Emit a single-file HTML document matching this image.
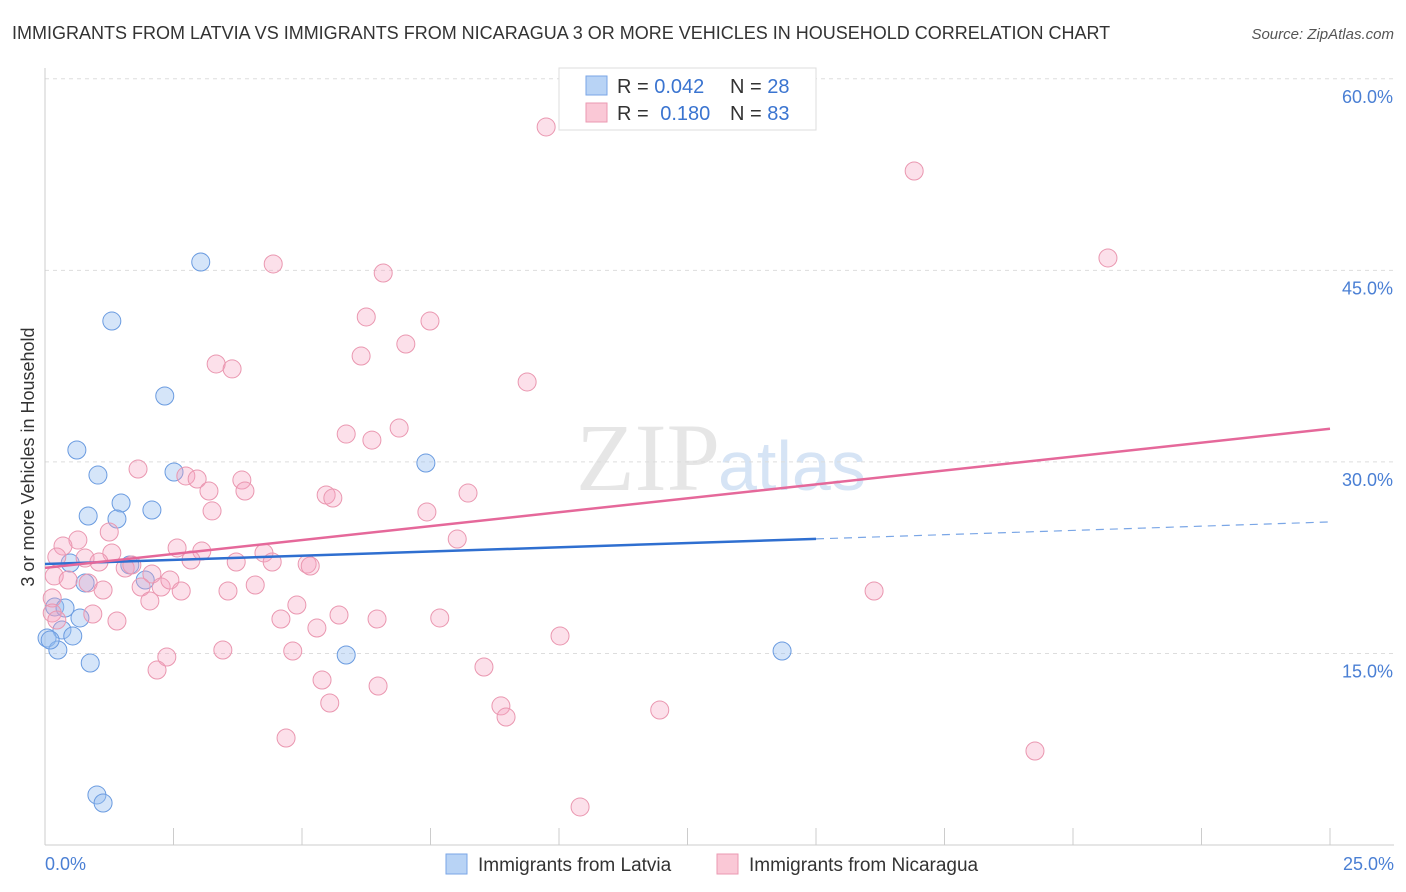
<!DOCTYPE html>
<html><head><meta charset="utf-8"><style>
body{margin:0;background:#fff;font-family:"Liberation Sans",sans-serif;}
#wrap{position:relative;width:1406px;height:892px;overflow:hidden;}
</style></head><body>
<div id="wrap">
<svg id="svg" width="1406" height="892" xmlns="http://www.w3.org/2000/svg">
<text x="12" y="39" font-size="18" fill="#333">IMMIGRANTS FROM LATVIA VS IMMIGRANTS FROM NICARAGUA 3 OR MORE VEHICLES IN HOUSEHOLD CORRELATION CHART</text>
<text x="1394" y="39" font-size="15" fill="#555" font-style="italic" text-anchor="end">Source: ZipAtlas.com</text>
<text x="720" y="490" font-size="96" fill="#e6e6e6" font-family="Liberation Serif,serif" text-anchor="end">ZIP</text>
<text x="718" y="490" font-size="70" fill="#d6e4f5">atlas</text>
<g id="grid"></g>
<g id="axes"></g>
<g id="pts"></g>
<g id="trend"></g>
<text transform="translate(34,457) rotate(-90)" font-size="18" fill="#333" text-anchor="middle">3 or more Vehicles in Household</text>
<text x="45" y="870" font-size="18" fill="#4a7fd4">0.0%</text>
<text x="1394" y="870" font-size="18" fill="#4a7fd4" text-anchor="end">25.0%</text>
<g>
<rect x="559" y="68" width="257" height="62" fill="#fff" stroke="#ddd"/>
<rect x="586" y="76" width="21" height="19" fill="#b8d3f5" stroke="#7aa6e6"/>
<text x="617" y="93" font-size="20" fill="#333">R = <tspan fill="#3a74d0">0.042</tspan></text>
<text x="730" y="93" font-size="20" fill="#333">N = <tspan fill="#3a74d0">28</tspan></text>
<rect x="586" y="103" width="21" height="19" fill="#fac8d6" stroke="#eb99b2"/>
<text x="617" y="120" font-size="20" fill="#333">R = <tspan fill="#3a74d0" dx="6">0.180</tspan></text>
<text x="730" y="120" font-size="20" fill="#333">N = <tspan fill="#3a74d0">83</tspan></text>
</g>
<g>
<rect x="446" y="854" width="21" height="20" fill="#b8d3f5" stroke="#7aa6e6"/>
<text x="478" y="871" font-size="19" fill="#333">Immigrants from Latvia</text>
<rect x="717" y="854" width="21" height="20" fill="#fac8d6" stroke="#eb99b2"/>
<text x="749" y="871" font-size="19" fill="#333">Immigrants from Nicaragua</text>
</g>
</svg>
</div>
<script>
const yTicks=[15,30,45,60];
const xTicks=[0,2.5,5,7.5,10,12.5,15,17.5,20,22.5,25];
const latviaX=[3.03,1.30,2.33,0.62,1.03,2.51,1.48,0.84,1.40,2.08,7.41,0.49,1.65,1.95,0.78,0.19,0.39,0.68,0.33,0.54,0.04,0.25,0.88,5.86,14.34,1.01,1.13,0.10];
const latviaY=[45.65,41.03,35.16,30.93,28.97,29.21,26.78,25.76,25.53,26.23,29.91,22.08,21.93,20.75,20.52,18.64,18.56,17.78,16.84,16.37,16.21,15.27,14.25,14.88,15.19,3.92,3.29,16.05];
const nicX=[9.75,16.91,20.68,4.44,6.58,6.25,7.49,7.02,6.15,3.33,3.64,9.38,6.89,5.86,6.36,1.81,2.74,2.96,3.83,3.19,3.89,5.47,5.60,8.23,3.25,7.43,1.25,0.64,0.35,8.02,2.57,3.05,1.30,4.26,0.23,0.78,1.05,3.72,2.84,4.42,5.10,5.16,1.56,1.69,2.08,0.18,0.45,0.84,1.87,2.26,2.43,2.65,3.56,4.09,1.13,16.13,0.14,2.04,4.90,0.93,1.40,4.59,5.72,6.46,7.68,5.29,10.02,3.46,4.82,2.37,2.18,8.54,5.39,6.48,5.54,8.87,8.97,11.96,4.69,19.26,10.41,0.14,0.23];
const nicY=[56.23,52.78,45.97,45.50,44.79,41.35,41.03,39.23,38.29,37.67,37.28,36.26,32.65,32.18,31.71,29.44,28.90,28.66,28.58,27.72,27.72,27.41,27.17,27.56,26.16,26.08,24.51,23.88,23.41,23.96,23.26,23.02,22.87,22.87,22.55,22.47,22.16,22.16,22.32,22.16,22.00,21.85,21.69,21.93,21.22,21.07,20.75,20.52,20.20,20.20,20.75,19.89,19.89,20.36,19.97,19.89,19.34,19.11,18.79,18.09,17.54,17.70,18.01,17.70,17.78,16.99,16.37,15.27,15.19,14.72,13.70,13.94,12.92,12.45,11.12,10.89,10.02,10.57,8.38,7.36,2.98,18.17,17.62];
const latviaTrend=[22.0,23.97,25.3];
const latviaTrendX=[0,15,25];
const nicTrend=[21.7,32.6];
const nicTrendX=[0,25];
const NS='http://www.w3.org/2000/svg';
const sx=v=>45+v*51.4;
const sy=v=>845-v*12.77;
function mk(t,a,p){const e=document.createElementNS(NS,t);for(const k in a)e.setAttribute(k,a[k]);p.appendChild(e);return e;}
const grid=document.getElementById('grid'),axes=document.getElementById('axes'),pts=document.getElementById('pts'),trend=document.getElementById('trend');
yTicks.forEach(t=>{
 const l=mk('line',{x1:45,x2:1394,y1:sy(t),y2:sy(t),stroke:'#ddd','stroke-dasharray':'4,4'},grid);
 
 
 const tx=mk('text',{x:1393,y:sy(t)+24,'font-size':18,fill:'#4a7fd4','text-anchor':'end'},grid);
 tx.textContent=t.toFixed(1)+'%';
 
 
});
const ax=mk('line',{x1:45,x2:1394,y1:845,y2:845,stroke:'#ccc'},axes);


const ay=mk('line',{x1:45,x2:45,y1:68,y2:845,stroke:'#ccc'},axes);


xTicks.forEach(t=>{
 const l=mk('line',{x1:sx(t),x2:sx(t),y1:828,y2:845,stroke:'#ccc'},axes);
 
 
});
latviaX.forEach((x,i)=>{
 const c=mk('circle',{cx:sx(x),cy:sy(latviaY[i]),r:9,fill:'rgba(150,190,240,0.4)',stroke:'#6a9be0','stroke-width':1},pts);
 
 
});
nicX.forEach((x,i)=>{
 const c=mk('circle',{cx:sx(x),cy:sy(nicY[i]),r:9,fill:'rgba(245,160,190,0.33)',stroke:'#ea97b0','stroke-width':1},pts);
 
 
});
const t1=mk('line',{x1:sx(latviaTrendX[0]),y1:sy(latviaTrend[0]),x2:sx(latviaTrendX[1]),y2:sy(latviaTrend[1]),stroke:'#2f6fd0','stroke-width':2.5},trend);


const t2=mk('line',{x1:sx(latviaTrendX[1]),y1:sy(latviaTrend[1]),x2:sx(latviaTrendX[2]),y2:sy(latviaTrend[2]),stroke:'#7aa6e6','stroke-width':1.2,'stroke-dasharray':'8,6'},trend);


const t3=mk('line',{x1:sx(nicTrendX[0]),y1:sy(nicTrend[0]),x2:sx(nicTrendX[1]),y2:sy(nicTrend[1]),stroke:'#e5689a','stroke-width':2.5},trend);


</script>
</body></html>
